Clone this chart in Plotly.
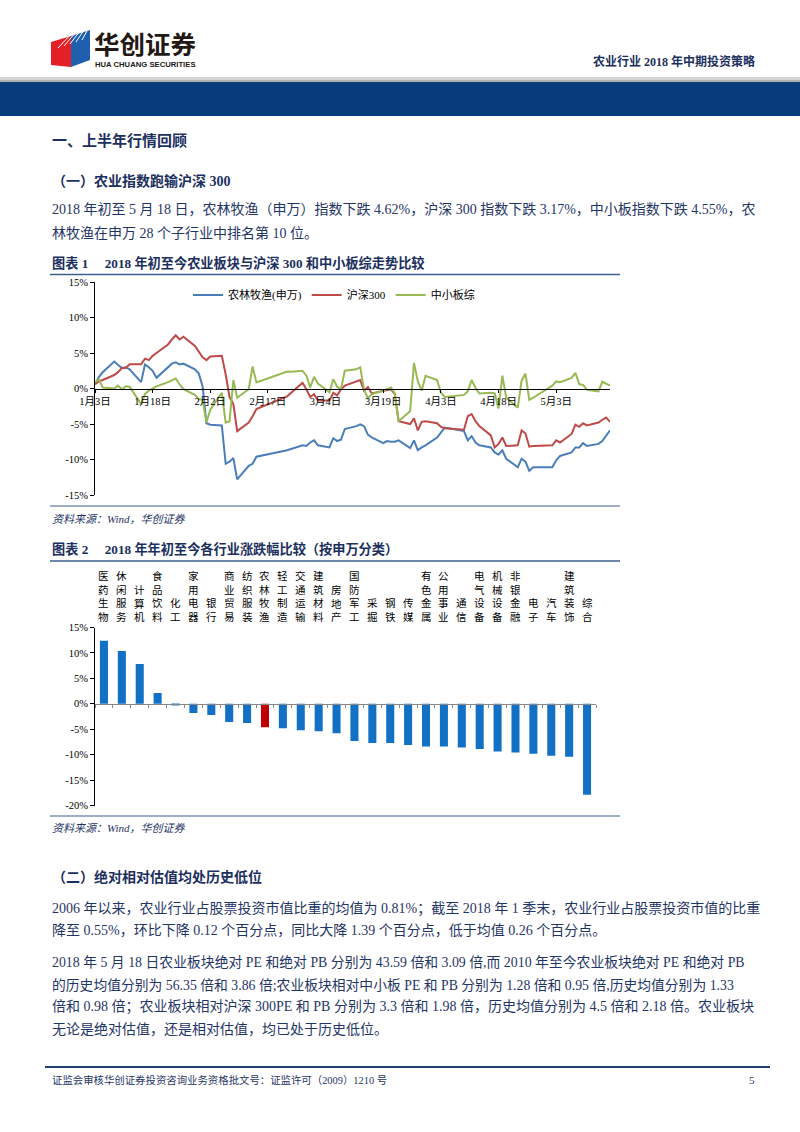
import plotly.graph_objects as go

W, H = 800, 1132


def px(x):
    return x / W


def py(y):
    return 1 - y / H


# ---------------- data: chart 1 (cumulative change since 2018-01-02, %) ----------------
dates = [
    "2018-01-03", "2018-01-04", "2018-01-05", "2018-01-08", "2018-01-09", "2018-01-10", "2018-01-11",
    "2018-01-12", "2018-01-15", "2018-01-16", "2018-01-17", "2018-01-18", "2018-01-19", "2018-01-22",
    "2018-01-23", "2018-01-24", "2018-01-25", "2018-01-26", "2018-01-29", "2018-01-30", "2018-01-31",
    "2018-02-01", "2018-02-02", "2018-02-05", "2018-02-06", "2018-02-07", "2018-02-08", "2018-02-09",
    "2018-02-12", "2018-02-13", "2018-02-14", "2018-02-22", "2018-02-23", "2018-02-26", "2018-02-27",
    "2018-02-28",
    "2018-03-01", "2018-03-02", "2018-03-05", "2018-03-06", "2018-03-07", "2018-03-08", "2018-03-09",
    "2018-03-12", "2018-03-13", "2018-03-14", "2018-03-15", "2018-03-16", "2018-03-19", "2018-03-20",
    "2018-03-21", "2018-03-22", "2018-03-23", "2018-03-26", "2018-03-27", "2018-03-28", "2018-03-29",
    "2018-03-30",
    "2018-04-02", "2018-04-03", "2018-04-04", "2018-04-09", "2018-04-10", "2018-04-11", "2018-04-12",
    "2018-04-13", "2018-04-16", "2018-04-17", "2018-04-18", "2018-04-19", "2018-04-20", "2018-04-23",
    "2018-04-24", "2018-04-25", "2018-04-26", "2018-04-27",
    "2018-05-02", "2018-05-03", "2018-05-04", "2018-05-07", "2018-05-08", "2018-05-09", "2018-05-10",
    "2018-05-11", "2018-05-14", "2018-05-15", "2018-05-16", "2018-05-17",
]

agri = [
    0.6, 1.6, 2.3, 3.8, 3.3, 2.9, 3.0, 2.7, 0.9, 3.4, 3.0, 2.5, 1.5, 3.0, 3.5, 3.7, 3.4, 3.5, 2.7, 2.1, 0.3,
    -4.9, -5.1, -5.2, -10.6, -10.3, -9.8, -12.8, -10.9, -10.6, -9.6, -8.7, -8.5, -8.0, -8.1, -7.6,
    -7.3, -8.0, -8.3, -7.0, -7.4, -7.2, -5.7, -5.3, -5.05, -5.3, -6.5, -6.9, -7.7, -7.4, -7.5, -7.5,
    -7.3, -8.4, -7.3, -8.7, -8.3, -8.0,
    -6.9, -6.2, -5.5, -6.0, -7.3, -6.7, -7.6, -8.0, -8.3, -9.0, -9.3, -8.7, -9.9, -11.1, -9.9, -10.3,
    -11.6, -11.1,
    -11.1, -10.1, -9.5, -9.0, -8.3, -8.3, -7.7, -8.1, -7.8, -7.4, -6.7, -5.9,
]

hs300 = [
    0.6, 1.0, 1.2, 1.9, 2.3, 2.9, 2.9, 3.4, 3.4, 4.2, 4.0, 4.6, 5.0, 6.2, 6.9, 7.5, 6.9, 7.3, 6.0, 5.2, 4.4,
    4.0, 4.5, 4.6, 2.0, -1.2, -2.2, -6.0, -4.8, -3.9, -2.9, -1.1, -0.6, 0.8, -0.1, -1.2,
    -0.8, -1.7, -1.7, -0.6, -1.0, -0.1, 0.4, 1.0, 1.2, -0.3, 0.2, -0.7, -0.4, -0.3, -0.1, -0.8,
    -4.6, -5.0, -4.2, -5.9, -4.7, -4.6,
    -4.9, -5.4, -5.6, -5.8, -3.9, -3.6, -4.6, -5.3, -6.6, -8.3, -7.8, -6.9, -8.1, -8.0, -5.9, -6.3,
    -8.2, -8.1,
    -8.0, -7.3, -7.6, -6.4, -5.1, -5.4, -4.9, -5.2, -4.8, -4.4, -4.1, -4.7,
]

sme = [
    0.85, 1.3, 0.15, 0.0, 0.4, -0.1, 0.3, 0.25, -2.2, -0.8, -0.3, 0.0, 0.3, 0.9, 1.2, 1.4, 0.6, -0.1,
    -0.9, -1.5, -1.6,
    -4.8, -3.0, -0.6, -4.8, -4.6, 1.2, -1.3, -0.1, 3.1, 0.85, 2.4, 2.35, 2.5, 1.8, 0.15,
    1.65, 0.7, -0.55, 1.3, 0.25, -0.1, 2.5, 2.7, 3.0, -0.1, -1.4, -0.8, -0.3, -0.1, 0.15, -0.7,
    -4.6, -3.2, 3.6, 1.0, -0.3, 1.8,
    1.2, -0.6, -1.2, -0.9, -0.4, 1.2, 0.1, -0.7, -0.6, -0.7, -2.8, 1.8, -1.3, -2.7, 1.1, 2.1, -1.6, -1.3,
    0.4, 1.0, 0.9, 1.5, 2.2, 0.6, 0.5, -0.2, -0.4, 0.95, 0.7, 0.4,
]

series_names = ["农林牧渔(申万)", "沪深300", "中小板综"]
x1_tickvals = ["2018-01-03", "2018-01-18", "2018-02-02", "2018-02-17", "2018-03-04",
               "2018-03-19", "2018-04-03", "2018-04-18", "2018-05-03"]
x1_ticktext = ["1月3日", "1月18日", "2月2日", "2月17日", "3月4日", "3月19日", "4月3日", "4月18日", "5月3日"]
y1_tickvals = [-15, -10, -5, 0, 5, 10, 15]
y1_ticktext = ["-15%", "-10%", "-5%", "0%", "5%", "10%", "15%"]

# ---------------- data: chart 2 (YTD change by SW industry, %) ----------------
industries = ["医药生物", "休闲服务", "计算机", "食品饮料", "化工", "家用电器", "银行", "商业贸易",
              "纺织服装", "农林牧渔", "轻工制造", "交通运输", "建筑材料", "房地产", "国防军工", "采掘",
              "钢铁", "传媒", "有色金属", "公用事业", "通信", "电气设备", "机械设备", "非银金融",
              "电子", "汽车", "建筑装饰", "综合"]
ind_ret = [12.4, 10.4, 7.8, 2.1, -0.3, -1.8, -2.2, -3.6, -3.8, -4.6, -4.8, -5.2, -5.4, -5.8, -7.3,
           -7.7, -7.7, -8.1, -8.4, -8.4, -8.6, -8.9, -9.4, -9.6, -9.8, -10.2, -10.4, -17.9]
highlight = "农林牧渔"
y2_tickvals = [-20, -15, -10, -5, 0, 5, 10, 15]
y2_ticktext = ["-20%", "-15%", "-10%", "-5%", "0%", "5%", "10%", "15%"]

# ---------------- styling ----------------
SERIF = "Liberation Serif, Noto Sans CJK SC, serif"
SANS = "Noto Sans CJK SC, sans-serif"
NAVY = "#1c2f5e"
TEXTC = "#1f3566"
LINEC = "#3d5f8f"
C_BLUE, C_RED, C_GREEN = "#4a7ebb", "#be4b48", "#98b954"

fig = go.Figure()
for name, vals, col in zip(series_names, [agri, hs300, sme], [C_BLUE, C_RED, C_GREEN]):
    fig.add_trace(go.Scatter(x=dates, y=vals, name=name, mode="lines",
                             line=dict(color=col, width=2), xaxis="x", yaxis="y"))

bar_colors = ["#c00000" if n == highlight else "#1271c4" for n in industries]
fig.add_trace(go.Bar(x=industries, y=ind_ret, marker=dict(color=bar_colors, line=dict(width=0)),
                     width=0.45, xaxis="x2", yaxis="y2", showlegend=False))

# chart geometry (pixels)
y1_dom = [py(495), py(282)]
x1_dom = [px(95), px(610)]
y2_dom = [py(805.5), py(627.5)]
x2_dom = [px(95), px(596)]
zero1 = y1_dom[0] + (0 - (-15)) / 30 * (y1_dom[1] - y1_dom[0])
zero2 = y2_dom[0] + (0 - (-20)) / 35 * (y2_dom[1] - y2_dom[0])

tickfont = dict(family=SERIF, size=10.5, color="#000000")

fig.update_layout(
    width=W, height=H,
    margin=dict(l=0, r=0, t=0, b=0, pad=0, autoexpand=False),
    paper_bgcolor="white", plot_bgcolor="rgba(0,0,0,0)",
    showlegend=True,
    legend=dict(orientation="h", x=px(188), y=py(295), xanchor="left", yanchor="middle",
                font=dict(family=SERIF, size=11, color="#000000"), bgcolor="rgba(0,0,0,0)",
                itemwidth=30, tracegroupgap=0),
    xaxis=dict(domain=x1_dom, type="date", range=["2018-01-03", "2018-05-17"], anchor="free",
               position=zero1, tickvals=x1_tickvals, ticktext=x1_ticktext, ticks="outside",
               ticklen=3, tickcolor="#000", showline=True, linecolor="#000", linewidth=1,
               showgrid=False, zeroline=False, tickfont=tickfont, automargin=False),
    yaxis=dict(domain=y1_dom, range=[-15, 15], anchor="x", tickvals=y1_tickvals,
               ticktext=y1_ticktext, ticks="outside", ticklen=4, tickcolor="#000",
               showline=True, linecolor="#000", linewidth=1, showgrid=False, zeroline=False,
               tickfont=tickfont, automargin=False),
    xaxis2=dict(domain=x2_dom, type="category", range=[-0.5, len(industries) - 0.5],
                anchor="free", position=zero2, showticklabels=False, ticks="outside",
                tickson="boundaries", ticklen=3, tickcolor="#888", showline=True,
                linecolor="#888", linewidth=1, showgrid=False, zeroline=False, automargin=False),
    yaxis2=dict(domain=y2_dom, range=[-20, 15], anchor="x2", tickvals=y2_tickvals,
                ticktext=y2_ticktext, ticks="outside", ticklen=4, tickcolor="#000",
                showline=True, linecolor="#000", linewidth=1, showgrid=False, zeroline=False,
                tickfont=tickfont, automargin=False),
)

shapes = []
ann = []


def hline(y, x0, x1, color, width):
    shapes.append(dict(type="line", xref="paper", yref="paper", x0=px(x0), x1=px(x1),
                       y0=py(y), y1=py(y), line=dict(color=color, width=width)))


def rect(x0, y0, x1, y1, color):
    shapes.append(dict(type="rect", xref="paper", yref="paper", x0=px(x0), x1=px(x1),
                       y0=py(y1), y1=py(y0), fillcolor=color, line=dict(width=0), layer="below"))


def poly(points, color):
    d = "M " + " L ".join(f"{px(a):.5f},{py(b):.5f}" for a, b in points) + " Z"
    shapes.append(dict(type="path", xref="paper", yref="paper", path=d, fillcolor=color,
                       line=dict(width=0)))


def txt(x, y, s, size, color=TEXTC, anchor="left", family=SERIF):
    ann.append(dict(x=px(x), y=py(y), xref="paper", yref="paper", text=s, showarrow=False,
                    xanchor=anchor, yanchor="middle", font=dict(size=size, color=color, family=family)))


# ---------------- header ----------------
rect(0, 77, 800, 80, "#d4d4d4")
rect(0, 80, 800, 82, "#b0b0b0")
rect(0, 82, 800, 116, "#073c7c")
# logo block
poly([(51, 42), (71, 36), (71, 67), (51, 65)], "#e41f26")
poly([(71, 36), (90, 30), (90, 60), (71, 67)], "#1f5fae")
for k in range(5):
    shapes.append(dict(type="line", xref="paper", yref="paper",
                       x0=px(58 + k * 6), y0=py(48 - k * 2), x1=px(72 + k * 4), y1=py(33 - k * 1),
                       line=dict(color="white", width=1)))
txt(92, 42, "<b>华创证券</b>", 25.5, "#231815", family=SANS)
txt(93, 64.5, "<b>HUA CHUANG SECURITIES</b>", 7.7, "#231815",
    family="Liberation Sans Narrow, Liberation Sans, sans-serif")
txt(757, 62, "<b>农业行业 2018 年中期投资策略</b>", 12, NAVY, anchor="right")

# ---------------- body text ----------------
B = 14.0
txt(50, 140, "<b>一、上半年行情回顾</b>", 15, NAVY)
txt(50, 181, "<b>（一）农业指数跑输沪深 300</b>", 14, NAVY)
txt(50, 209, "2018 年初至 5 月 18 日，农林牧渔（申万）指数下跌 4.62%，沪深 300 指数下跌 3.17%，中小板指数下跌 4.55%，农", B)
txt(50, 233, "林牧渔在申万 28 个子行业中排名第 10 位。", B)
txt(50, 263, "<b>图表 1　 2018 年初至今农业板块与沪深 300 和中小板综走势比较</b>", 13.2, NAVY)
hline(274.5, 50, 620, LINEC, 1.5)
hline(506, 50, 620, LINEC, 1.2)
txt(50, 519, "<i>资料来源：Wind，华创证券</i>", 11, TEXTC)

txt(50, 549, "<b>图表 2　 2018 年年初至今各行业涨跌幅比较（按申万分类）</b>", 13.2, NAVY)
hline(561, 50, 620, LINEC, 1.5)
hline(816, 50, 620, LINEC, 1.2)
txt(50, 828, "<i>资料来源：Wind，华创证券</i>", 11, TEXTC)

txt(50, 877, "<b>（二）绝对相对估值均处历史低位</b>", 14, NAVY)
txt(50, 908, "2006 年以来，农业行业占股票投资市值比重的均值为 0.81%；截至 2018 年 1 季末，农业行业占股票投资市值的比重", B)
txt(50, 930, "降至 0.55%，环比下降 0.12 个百分点，同比大降 1.39 个百分点，低于均值 0.26 个百分点。", B)
txt(50, 962, "2018 年 5 月 18 日农业板块绝对 PE 和绝对 PB 分别为 43.59 倍和 3.09 倍,而 2010 年至今农业板块绝对 PE 和绝对 PB", 13.85)
txt(50, 985, "的历史均值分别为 56.35 倍和 3.86 倍;农业板块相对中小板 PE 和 PB 分别为 1.28 倍和 0.95 倍,历史均值分别为 1.33", 13.8)
txt(50, 1007, "倍和 0.98 倍；农业板块相对沪深 300PE 和 PB 分别为 3.3 倍和 1.98 倍，历史均值分别为 4.5 倍和 2.18 倍。农业板块", B)
txt(50, 1029, "无论是绝对估值，还是相对估值，均已处于历史低位。", B)

# ---------------- footer ----------------
hline(1067, 45, 770, "#1f4172", 2)
txt(50, 1080, "证监会审核华创证券投资咨询业务资格批文号：证监许可（2009）1210 号", 10.4, TEXTC)
txt(757, 1080, "5", 11, TEXTC, anchor="right")

# ---------------- chart 2 category labels (stacked vertical text) ----------------
for name in industries:
    ann.append(dict(x=name, y=py(625.5), xref="x2", yref="paper", text="<br>".join(list(name)),
                    showarrow=False, xanchor="center", yanchor="bottom",
                    font=dict(size=10.5, color="#000000", family=SANS)))

fig.update_layout(shapes=shapes, annotations=ann)
fig.write_html("out.html", config={"displayModeBar": False},
               post_script="document.body.style.margin='0';")
